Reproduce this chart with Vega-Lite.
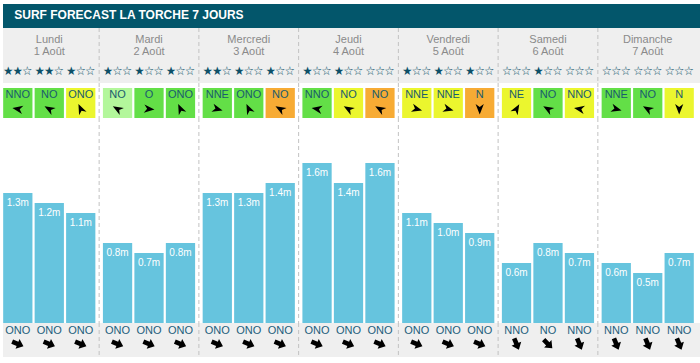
{
  "$schema": "https://vega.github.io/schema/vega-lite/v6.json",
  "background": "white",
  "padding": {"left": 3, "top": 4, "right": 0, "bottom": 0},
  "spacing": 0,
  "bounds": "flush",
  "config": {"view": {"stroke": null}, "concat": {"spacing": 0}},
  "datasets": {
    "slots": [
      {"day": "Lundi", "date": "1 Août", "slot": 1, "h": 1.3, "label": "1.3m", "stars": "★★☆", "wind": "NNO", "wclass": "modéré", "warrow": 280, "swell": "ONO", "sdeg": 292.5},
      {"day": "Lundi", "date": "1 Août", "slot": 2, "h": 1.2, "label": "1.2m", "stars": "★★☆", "wind": "NO", "wclass": "modéré", "warrow": 300, "swell": "ONO", "sdeg": 292.5},
      {"day": "Lundi", "date": "1 Août", "slot": 3, "h": 1.1, "label": "1.1m", "stars": "★☆☆", "wind": "ONO", "wclass": "soutenu", "warrow": 335, "swell": "ONO", "sdeg": 292.5},
      {"day": "Mardi", "date": "2 Août", "slot": 1, "h": 0.8, "label": "0.8m", "stars": "★☆☆", "wind": "NO", "wclass": "faible", "warrow": 300, "swell": "ONO", "sdeg": 292.5},
      {"day": "Mardi", "date": "2 Août", "slot": 2, "h": 0.7, "label": "0.7m", "stars": "★☆☆", "wind": "O", "wclass": "modéré", "warrow": 95, "swell": "ONO", "sdeg": 292.5},
      {"day": "Mardi", "date": "2 Août", "slot": 3, "h": 0.8, "label": "0.8m", "stars": "★☆☆", "wind": "ONO", "wclass": "modéré", "warrow": 335, "swell": "ONO", "sdeg": 292.5},
      {"day": "Mercredi", "date": "3 Août", "slot": 1, "h": 1.3, "label": "1.3m", "stars": "★★☆", "wind": "NNE", "wclass": "modéré", "warrow": 105, "swell": "ONO", "sdeg": 292.5},
      {"day": "Mercredi", "date": "3 Août", "slot": 2, "h": 1.3, "label": "1.3m", "stars": "★☆☆", "wind": "ONO", "wclass": "modéré", "warrow": 335, "swell": "ONO", "sdeg": 292.5},
      {"day": "Mercredi", "date": "3 Août", "slot": 3, "h": 1.4, "label": "1.4m", "stars": "★☆☆", "wind": "NO", "wclass": "fort", "warrow": 300, "swell": "ONO", "sdeg": 292.5},
      {"day": "Jeudi", "date": "4 Août", "slot": 1, "h": 1.6, "label": "1.6m", "stars": "★☆☆", "wind": "NNO", "wclass": "modéré", "warrow": 280, "swell": "ONO", "sdeg": 292.5},
      {"day": "Jeudi", "date": "4 Août", "slot": 2, "h": 1.4, "label": "1.4m", "stars": "★☆☆", "wind": "NO", "wclass": "soutenu", "warrow": 300, "swell": "ONO", "sdeg": 292.5},
      {"day": "Jeudi", "date": "4 Août", "slot": 3, "h": 1.6, "label": "1.6m", "stars": "☆☆☆", "wind": "NO", "wclass": "fort", "warrow": 300, "swell": "ONO", "sdeg": 292.5},
      {"day": "Vendredi", "date": "5 Août", "slot": 1, "h": 1.1, "label": "1.1m", "stars": "★☆☆", "wind": "NNE", "wclass": "soutenu", "warrow": 105, "swell": "ONO", "sdeg": 292.5},
      {"day": "Vendredi", "date": "5 Août", "slot": 2, "h": 1.0, "label": "1.0m", "stars": "★☆☆", "wind": "NNE", "wclass": "soutenu", "warrow": 105, "swell": "ONO", "sdeg": 292.5},
      {"day": "Vendredi", "date": "5 Août", "slot": 3, "h": 0.9, "label": "0.9m", "stars": "★☆☆", "wind": "N", "wclass": "fort", "warrow": 180, "swell": "ONO", "sdeg": 292.5},
      {"day": "Samedi", "date": "6 Août", "slot": 1, "h": 0.6, "label": "0.6m", "stars": "☆☆☆", "wind": "NE", "wclass": "soutenu", "warrow": 30, "swell": "NNO", "sdeg": 337.5},
      {"day": "Samedi", "date": "6 Août", "slot": 2, "h": 0.8, "label": "0.8m", "stars": "★☆☆", "wind": "NO", "wclass": "modéré", "warrow": 300, "swell": "NO", "sdeg": 315},
      {"day": "Samedi", "date": "6 Août", "slot": 3, "h": 0.7, "label": "0.7m", "stars": "☆☆☆", "wind": "NNO", "wclass": "soutenu", "warrow": 280, "swell": "NNO", "sdeg": 337.5},
      {"day": "Dimanche", "date": "7 Août", "slot": 1, "h": 0.6, "label": "0.6m", "stars": "☆☆☆", "wind": "NNE", "wclass": "modéré", "warrow": 105, "swell": "NNO", "sdeg": 337.5},
      {"day": "Dimanche", "date": "7 Août", "slot": 2, "h": 0.5, "label": "0.5m", "stars": "☆☆☆", "wind": "NO", "wclass": "modéré", "warrow": 300, "swell": "NNO", "sdeg": 337.5},
      {"day": "Dimanche", "date": "7 Août", "slot": 3, "h": 0.7, "label": "0.7m", "stars": "☆☆☆", "wind": "N", "wclass": "soutenu", "warrow": 180, "swell": "NNO", "sdeg": 337.5}
    ]
  },
  "vconcat": [
    {
      "width": 697, "height": 24,
      "view": {"fill": "#03566b", "stroke": null},
      "data": {"values": [{"title": "SURF FORECAST LA TORCHE 7 JOURS"}]},
      "mark": {"type": "text", "align": "left", "baseline": "middle", "dx": -35, "dy": -1, "font": "Liberation Sans", "fontSize": 12, "fontWeight": "bold", "color": "white"},
      "encoding": {
        "x": {"datum": "Lundi", "type": "nominal", "scale": {"domain": ["Lundi","Mardi","Mercredi","Jeudi","Vendredi","Samedi","Dimanche"], "range": [-3.6, 694.6], "paddingInner": 0, "paddingOuter": 0}, "axis": null},
        "text": {"field": "title"}
      }
    },
    {
      "width": 697, "height": 55,
      "view": {"fill": "#efefef", "stroke": null},
      "data": {"name": "slots"},
      "layer": [
        {
          "transform": [{"filter": "datum.slot == 1 && datum.day != 'Lundi'"}],
          "mark": {"type": "rule", "color": "#c2c2c2", "strokeDash": [4, 3], "strokeWidth": 1},
          "encoding": {"x": {"field": "day", "type": "nominal", "bandPosition": 0, "scale": {"domain": ["Lundi","Mardi","Mercredi","Jeudi","Vendredi","Samedi","Dimanche"], "range": [-3.6, 694.6], "paddingInner": 0, "paddingOuter": 0}, "axis": null}}
        },
        {
          "transform": [{"filter": "datum.slot == 2"}],
          "mark": {"type": "text", "baseline": "middle", "dy": -16, "font": "Liberation Sans", "fontSize": 11, "color": "#8a8a8a"},
          "encoding": {"x": {"field": "day", "type": "nominal", "scale": {"domain": ["Lundi","Mardi","Mercredi","Jeudi","Vendredi","Samedi","Dimanche"], "range": [-3.6, 694.6], "paddingInner": 0, "paddingOuter": 0}, "axis": null}, "text": {"field": "day"}}
        },
        {
          "transform": [{"filter": "datum.slot == 2"}],
          "mark": {"type": "text", "baseline": "middle", "dy": -4, "font": "Liberation Sans", "fontSize": 11, "color": "#8a8a8a"},
          "encoding": {"x": {"field": "day", "type": "nominal", "scale": {"domain": ["Lundi","Mardi","Mercredi","Jeudi","Vendredi","Samedi","Dimanche"], "range": [-3.6, 694.6], "paddingInner": 0, "paddingOuter": 0}, "axis": null}, "text": {"field": "date"}}
        },
        {
          "mark": {"type": "text", "baseline": "middle", "dy": 15, "font": "Noto Sans CJK SC", "fontSize": 9.5, "color": "#0d5068"},
          "encoding": {
            "x": {"field": "day", "type": "nominal", "scale": {"domain": ["Lundi","Mardi","Mercredi","Jeudi","Vendredi","Samedi","Dimanche"], "range": [-3.6, 694.6], "paddingInner": 0, "paddingOuter": 0}, "axis": null},
            "xOffset": {"field": "slot", "type": "nominal", "scale": {"domain": [1, 2, 3], "paddingInner": 0.07, "paddingOuter": 0.12}},
            "text": {"field": "stars"}
          }
        }
      ]
    },
    {
      "width": 697, "height": 5,
      "data": {"name": "slots"},
      "transform": [{"filter": "datum.slot == 1 && datum.day != 'Lundi'"}],
      "mark": {"type": "rule", "color": "#c2c2c2", "strokeDash": [4, 3], "strokeWidth": 1},
      "encoding": {"x": {"field": "day", "type": "nominal", "bandPosition": 0, "scale": {"domain": ["Lundi","Mardi","Mercredi","Jeudi","Vendredi","Samedi","Dimanche"], "range": [-3.6, 694.6], "paddingInner": 0, "paddingOuter": 0}, "axis": null}}
    },
    {
      "width": 697, "height": 30,
      "data": {"name": "slots"},
      "layer": [
        {
          "transform": [{"filter": "datum.slot == 1 && datum.day != 'Lundi'"}],
          "mark": {"type": "rule", "color": "#c2c2c2", "strokeDash": [4, 3], "strokeWidth": 1},
          "encoding": {"x": {"field": "day", "type": "nominal", "bandPosition": 0, "scale": {"domain": ["Lundi","Mardi","Mercredi","Jeudi","Vendredi","Samedi","Dimanche"], "range": [-3.6, 694.6], "paddingInner": 0, "paddingOuter": 0}, "axis": null}}
        },
        {
          "mark": {"type": "rect"},
          "encoding": {
            "x": {"field": "day", "type": "nominal", "scale": {"domain": ["Lundi","Mardi","Mercredi","Jeudi","Vendredi","Samedi","Dimanche"], "range": [-3.6, 694.6], "paddingInner": 0, "paddingOuter": 0}, "axis": null},
            "xOffset": {"field": "slot", "type": "nominal", "scale": {"domain": [1, 2, 3], "paddingInner": 0.07, "paddingOuter": 0.12}},
            "color": {"field": "wclass", "type": "nominal", "scale": {"domain": ["faible", "modéré", "soutenu", "fort"], "range": ["#b3f79b", "#63df47", "#ebf62e", "#f7ab34"]}, "legend": null}
          }
        },
        {
          "mark": {"type": "text", "baseline": "middle", "dy": -8, "font": "Liberation Sans", "fontSize": 11, "color": "#1a5c6e"},
          "encoding": {
            "x": {"field": "day", "type": "nominal", "scale": {"domain": ["Lundi","Mardi","Mercredi","Jeudi","Vendredi","Samedi","Dimanche"], "range": [-3.6, 694.6], "paddingInner": 0, "paddingOuter": 0}, "axis": null},
            "xOffset": {"field": "slot", "type": "nominal", "scale": {"domain": [1, 2, 3], "paddingInner": 0.07, "paddingOuter": 0.12}},
            "text": {"field": "wind"}
          }
        },
        {
          "mark": {"type": "point", "filled": true, "color": "black", "opacity": 1, "strokeWidth": 0, "size": 120, "shape": "M0,-1L0.75,0.9L0,0.35L-0.75,0.9Z", "yOffset": 6},
          "encoding": {
            "x": {"field": "day", "type": "nominal", "scale": {"domain": ["Lundi","Mardi","Mercredi","Jeudi","Vendredi","Samedi","Dimanche"], "range": [-3.6, 694.6], "paddingInner": 0, "paddingOuter": 0}, "axis": null},
            "xOffset": {"field": "slot", "type": "nominal", "scale": {"domain": [1, 2, 3], "paddingInner": 0.07, "paddingOuter": 0.12}},
            "angle": {"field": "warrow", "type": "quantitative", "scale": null}
          }
        }
      ]
    },
    {
      "width": 697, "height": 205,
      "data": {"name": "slots"},
      "layer": [
        {
          "transform": [{"filter": "datum.slot == 1 && datum.day != 'Lundi'"}],
          "mark": {"type": "rule", "color": "#c2c2c2", "strokeDash": [4, 3], "strokeWidth": 1},
          "encoding": {"x": {"field": "day", "type": "nominal", "bandPosition": 0, "scale": {"domain": ["Lundi","Mardi","Mercredi","Jeudi","Vendredi","Samedi","Dimanche"], "range": [-3.6, 694.6], "paddingInner": 0, "paddingOuter": 0}, "axis": null}}
        },
        {
          "mark": {"type": "bar", "color": "#66c4de"},
          "encoding": {
            "x": {"field": "day", "type": "nominal", "scale": {"domain": ["Lundi","Mardi","Mercredi","Jeudi","Vendredi","Samedi","Dimanche"], "range": [-3.6, 694.6], "paddingInner": 0, "paddingOuter": 0}, "axis": null},
            "xOffset": {"field": "slot", "type": "nominal", "scale": {"domain": [1, 2, 3], "paddingInner": 0.07, "paddingOuter": 0.12}},
            "y": {"field": "h", "type": "quantitative", "scale": {"domain": [0, 2.05], "nice": false}, "axis": null}
          }
        },
        {
          "mark": {"type": "text", "baseline": "top", "dy": 5, "font": "Liberation Sans", "fontSize": 10, "color": "white"},
          "encoding": {
            "x": {"field": "day", "type": "nominal", "scale": {"domain": ["Lundi","Mardi","Mercredi","Jeudi","Vendredi","Samedi","Dimanche"], "range": [-3.6, 694.6], "paddingInner": 0, "paddingOuter": 0}, "axis": null},
            "xOffset": {"field": "slot", "type": "nominal", "scale": {"domain": [1, 2, 3], "paddingInner": 0.07, "paddingOuter": 0.12}},
            "y": {"field": "h", "type": "quantitative", "scale": {"domain": [0, 2.05], "nice": false}, "axis": null},
            "text": {"field": "label"}
          }
        }
      ]
    },
    {
      "width": 697, "height": 34,
      "view": {"fill": "#efefef", "stroke": null},
      "data": {"name": "slots"},
      "layer": [
        {
          "transform": [{"filter": "datum.slot == 1 && datum.day != 'Lundi'"}],
          "mark": {"type": "rule", "color": "#c2c2c2", "strokeDash": [4, 3], "strokeWidth": 1},
          "encoding": {"x": {"field": "day", "type": "nominal", "bandPosition": 0, "scale": {"domain": ["Lundi","Mardi","Mercredi","Jeudi","Vendredi","Samedi","Dimanche"], "range": [-3.6, 694.6], "paddingInner": 0, "paddingOuter": 0}, "axis": null}}
        },
        {
          "mark": {"type": "text", "baseline": "middle", "dy": -9, "font": "Liberation Sans", "fontSize": 11, "color": "#1d5e7c"},
          "encoding": {
            "x": {"field": "day", "type": "nominal", "scale": {"domain": ["Lundi","Mardi","Mercredi","Jeudi","Vendredi","Samedi","Dimanche"], "range": [-3.6, 694.6], "paddingInner": 0, "paddingOuter": 0}, "axis": null},
            "xOffset": {"field": "slot", "type": "nominal", "scale": {"domain": [1, 2, 3], "paddingInner": 0.07, "paddingOuter": 0.12}},
            "text": {"field": "swell"}
          }
        },
        {
          "mark": {"type": "point", "filled": true, "color": "black", "opacity": 1, "strokeWidth": 0, "size": 150, "shape": "M0,-1L0.85,0.05L0.38,0.05L0.38,1L-0.38,1L-0.38,0.05L-0.85,0.05Z", "yOffset": 4},
          "encoding": {
            "x": {"field": "day", "type": "nominal", "scale": {"domain": ["Lundi","Mardi","Mercredi","Jeudi","Vendredi","Samedi","Dimanche"], "range": [-3.6, 694.6], "paddingInner": 0, "paddingOuter": 0}, "axis": null},
            "xOffset": {"field": "slot", "type": "nominal", "scale": {"domain": [1, 2, 3], "paddingInner": 0.07, "paddingOuter": 0.12}},
            "angle": {"field": "sdeg", "type": "quantitative", "scale": {"domain": [0, 360], "range": [180, 540]}}
          }
        }
      ]
    }
  ]
}
